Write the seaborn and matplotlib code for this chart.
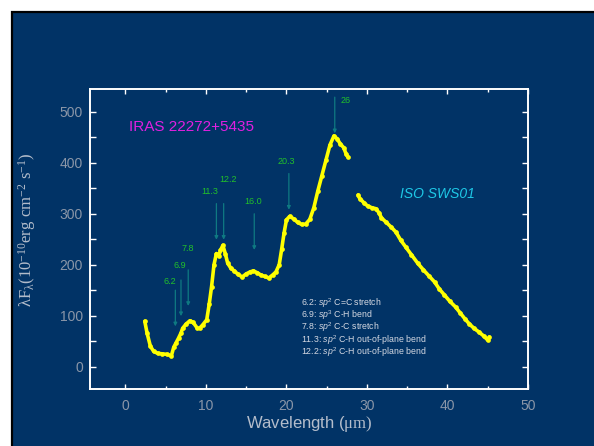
import numpy as np
import pandas as pd
import matplotlib
matplotlib.use("Agg")
import matplotlib.pyplot as plt
from matplotlib.patches import Rectangle
from matplotlib.ticker import MultipleLocator
import seaborn as sns

# ---------------- data ----------------
seg1_wav = [2.4, 2.7, 3.1, 3.5, 4.0, 4.6, 5.2, 5.7, 6.0, 6.3, 6.6, 6.9, 7.1, 7.5, 8.0,
            8.4, 8.9, 9.2, 9.6, 10.1, 10.4, 10.7, 11.0, 11.3, 11.6, 11.8, 12.1, 12.4,
            12.7, 13.1, 13.5, 14.0, 14.5, 15.0, 15.5, 15.9, 16.4, 16.8, 17.3, 17.8,
            18.3, 18.7, 19.1, 19.4, 19.7, 20.0, 20.4, 20.9, 21.4, 21.9, 22.4, 22.9,
            23.4, 23.9, 24.4, 24.9, 25.4, 25.9, 26.3, 26.7, 27.1, 27.4, 27.6]
seg1_flux = [89, 65, 40, 30, 26, 25, 24, 21, 38, 47, 56, 66, 75, 83, 90,
             87, 76, 75, 82, 92, 122, 157, 200, 222, 217, 228, 238, 222,
             203, 193, 188, 181, 176, 182, 186, 188, 184, 180, 177, 174,
             180, 186, 200, 230, 262, 288, 295, 290, 283, 279, 280, 289,
             312, 345, 375, 405, 435, 453, 447, 437, 430, 418, 412]
seg2_wav = [28.9, 29.1, 29.6, 30.1, 30.6, 31.1, 31.5, 31.8, 32.4, 33.0, 33.6, 34.2,
            34.8, 35.5, 36.3, 37.0, 37.7, 38.4, 39.0, 39.6, 40.3, 41.0, 41.6, 42.2,
            42.7, 43.3, 43.9, 44.5, 45.0, 45.2]
seg2_flux = [337, 330, 322, 315, 312, 310, 302, 292, 283, 274, 264, 248,
             235, 220, 203, 190, 178, 166, 152, 141, 128, 117, 105, 93,
             84, 75, 68, 60, 52, 58]

feature_wav = [6.2, 6.9, 7.8, 11.3, 12.2, 16.0, 20.3, 26.0]
feature_lbl = ["6.2", "6.9", "7.8", "11.3", "12.2", "16.0", "20.3", "26"]
arrow_top = [150, 170, 190, 320, 320, 300, 379, 529]
label_xy = [(5.5, 167), (6.8, 199), (7.7, 231), (10.5, 344), (12.7, 368),
            (15.9, 325), (20.0, 403), (27.3, 523)]

legend_lines = [
    r"6.2: $\mathit{sp}^{\mathsf{2}}$ C=C stretch",
    r"6.9: $\mathit{sp}^{\mathsf{3}}$ C-H bend",
    r"7.8: $\mathit{sp}^{\mathsf{2}}$ C-C stretch",
    r"11.3: $\mathit{sp}^{\mathsf{2}}$ C-H out-of-plane bend",
    r"12.2: $\mathit{sp}^{\mathsf{2}}$ C-H out-of-plane bend",
]

df = pd.DataFrame({
    "wav": seg1_wav + seg2_wav,
    "flux": seg1_flux + seg2_flux,
    "seg": [1] * len(seg1_wav) + [2] * len(seg2_wav),
})

# ---------------- style ----------------
sns.set_style("ticks")
plt.rcParams["font.family"] = ["Liberation Sans", "DejaVu Sans"]
plt.rcParams["mathtext.fontset"] = "custom"
plt.rcParams["mathtext.rm"] = "Liberation Serif"
plt.rcParams["mathtext.it"] = "Liberation Sans:italic"
plt.rcParams["mathtext.sf"] = "Liberation Sans"

navy = "#013366"
tick_col = "#8a96a8"
label_col = "#b4bdcb"
green = "#22c02a"
teal = "#0f7a82"

fig = plt.figure(figsize=(5.94, 4.46), dpi=100)
fig.patch.set_facecolor("white")
fig.add_artist(Rectangle((11.5 / 594, -0.05), 1.1, (446 - 11.5) / 446 + 0.05,
                         transform=fig.transFigure, facecolor=navy,
                         edgecolor="black", lw=1.6, zorder=-10))

ax = fig.add_axes([90 / 594, 1 - 389 / 446, 438 / 594, 300 / 446])
ax.set_facecolor(navy)

sns.lineplot(data=df, x="wav", y="flux", units="seg", estimator=None,
             color="#ffff00", lw=2.6, marker="o", markersize=3.4,
             markeredgewidth=0, ax=ax, legend=False)

ax.set_xlim(-4.4, 50)
ax.set_ylim(-44, 545)

for s in ax.spines.values():
    s.set_color("white")
    s.set_linewidth(1.4)

ax.xaxis.set_major_locator(MultipleLocator(10))
ax.xaxis.set_minor_locator(MultipleLocator(5))
ax.yaxis.set_major_locator(MultipleLocator(100))
ax.yaxis.set_minor_locator(MultipleLocator(50))
ax.tick_params(which="both", direction="in", top=True, right=True,
               color="white", width=1.0, labelcolor=tick_col, labelsize=10)
ax.tick_params(axis="x", which="major", length=3.8, pad=7)
ax.tick_params(axis="x", which="minor", length=2.2)
ax.tick_params(axis="y", which="major", length=4, pad=5)
ax.tick_params(axis="y", which="minor", length=4)

ax.set_xlabel(r"Wavelength ($\mathrm{\mu m)}$", color=label_col, fontsize=12)
ax.xaxis.set_label_coords(0.5, -0.082)
ax.set_ylabel(r"$\mathrm{\lambda F_{\lambda}(10^{-10}erg\ cm^{-2}\ s^{-1})}$",
              color=label_col, fontsize=12)
ax.yaxis.set_label_coords(-0.118, 0.53)

# title-like annotations
ax.text(8.26, 470, "IRAS 22272+5435", color="#e020e0", fontsize=11,
        ha="center", va="center")
ax.text(38.7, 339, "ISO SWS01", color="#1ec8e6", fontsize=10, style="italic",
        ha="center", va="center")

# feature arrows
for w, lbl, top, (lx, ly) in zip(feature_wav, feature_lbl, arrow_top, label_xy):
    ax.annotate("", xy=(w, top - 71), xytext=(w, top),
                arrowprops=dict(arrowstyle="-|>", color=teal, lw=0.9,
                                mutation_scale=5, shrinkA=0, shrinkB=0))
    ax.text(lx, ly, lbl, color=green, fontsize=6.5, ha="center", va="center")

# feature legend (one multi-line text block)
ax.text(21.8, 76.7, "\n".join(legend_lines), color="#d4d8e2", fontsize=6.3,
        ha="left", va="center", multialignment="left", linespacing=0.84)

fig.savefig("out.png", dpi=100)
